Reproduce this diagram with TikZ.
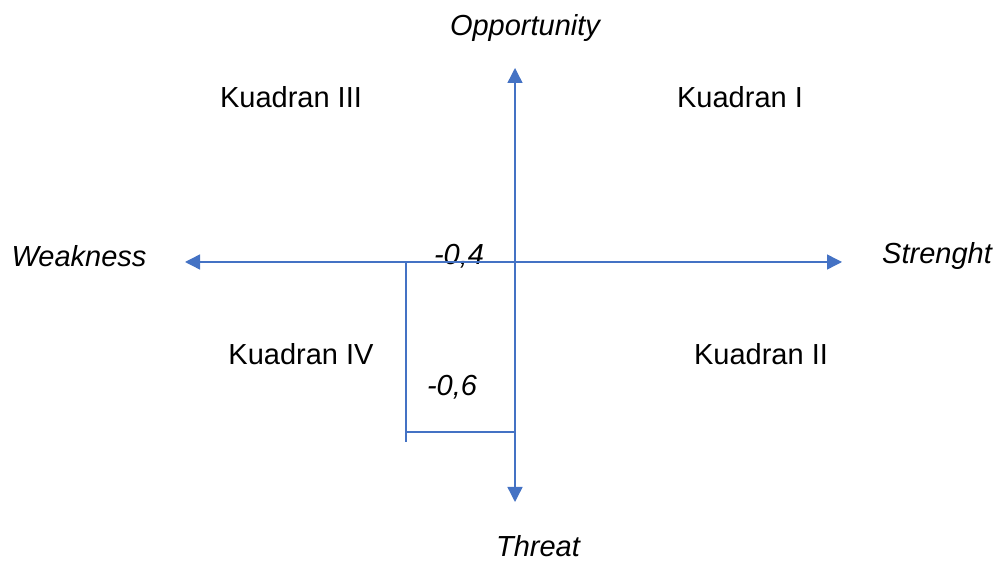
\documentclass[tikz,border=0pt]{standalone}
\usepackage{fontspec}
\setmainfont{Liberation Sans}
\usetikzlibrary{arrows.meta, positioning}
\definecolor{axisblue}{HTML}{4472C4}

\begin{document}
\begin{tikzpicture}[x=1pt, y=1pt, axis/.style={draw=axisblue, line width=1.4pt}, tip/.style={-{Triangle[length=15pt,width=15pt]}}, lbl/.style={font=\fontsize{29}{34}\selectfont\itshape, inner sep=0pt}, quad/.style={font=\fontsize{29}{34}\selectfont, inner sep=0pt}, >=Stealth]
        \useasboundingbox (0,0) rectangle (995,562);
        \coordinate (o) at (515,300);
        \coordinate (top) at (515,494);
        \coordinate (bottom) at (515,60);
        \coordinate (left) at (185,300);
        \coordinate (right) at (842,300);
        \coordinate (w0) at (406,300);
        \coordinate (w1) at (406,120);
        \coordinate (t0) at (406,130);
        \coordinate (t1) at (515,130);
        \node[lbl] (opp) at (525,534) {Opportunity};
        \node[lbl] (thr) at (538,16) {Threat};
        \node[lbl] (weak) at (79,306) {Weakness};
        \node[lbl] (str) at (937,306) {Strenght};
        \node[quad] (k3) at (291,465) {Kuadran III};
        \node[quad] (k1) at (740,465) {Kuadran I};
        \node[quad] (k4) at (301,208) {Kuadran IV};
        \node[quad] (k2) at (761,208) {Kuadran II};
        \node[lbl] (x) at (459,306) {-0,4};
        \node[lbl] (y) at (452,175) {-0,6};
        \draw[axis, tip, axisblue] (o) -- (top);
        \draw[axis, tip, axisblue] (o) -- (bottom);
        \draw[axis, tip, axisblue] (o) -- (left);
        \draw[axis, tip, axisblue] (o) -- (right);
        \draw[axis] (w0) -- (w1);
        \draw[axis] (t0) -- (t1);
    \end{tikzpicture}
\end{document}
